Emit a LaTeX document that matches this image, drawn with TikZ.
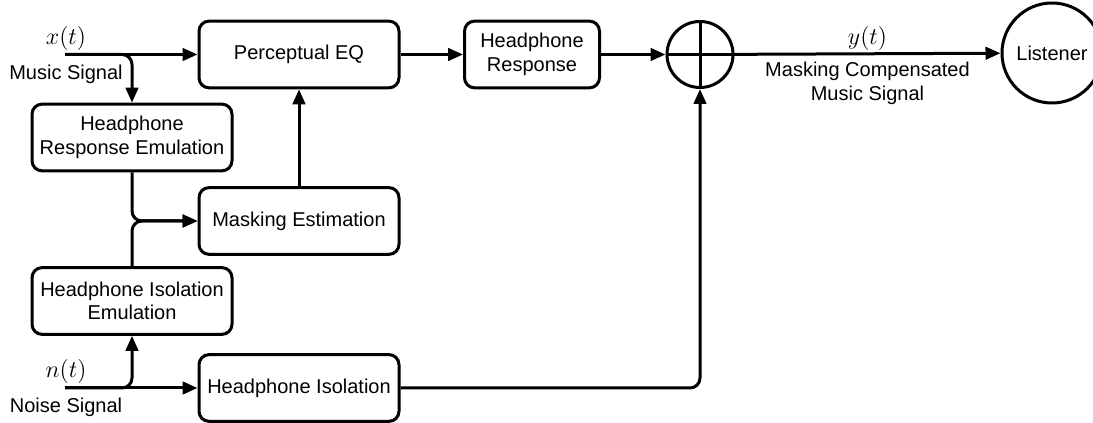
\documentclass[tikz,border=0pt]{standalone}
\usepackage{fontspec}
\setmainfont{Liberation Sans}
\usetikzlibrary{arrows.meta,positioning}

\begin{document}
\begin{tikzpicture}[x=0.6pt,y=-0.6pt,
  block/.style={draw,line width=1.8pt,rounded corners=6pt,minimum width=120pt,minimum height=40pt,align=center,font=\fontsize{12}{14}\selectfont},
  round/.style={draw,circle,line width=1.8pt,inner sep=0pt},
  conn/.style={line width=1.8pt,-{Triangle[length=9pt,width=7.5pt]}},
  lbl/.style={font=\fontsize{12}{14}\selectfont,align=center},
  sig/.style={font=\fontsize{15}{16}\selectfont}]
\useasboundingbox (0,0) rectangle (1093,423);

\node[block] (peq) at (299,54.5) {Perceptual EQ};
\node[block] (hre) at (132,137.5) {Headphone\\Response Emulation};
\node[block] (me) at (299,221) {Masking Estimation};
\node[block] (hie) at (132,301) {Headphone Isolation\\Emulation};
\node[block] (hi) at (299,388) {Headphone Isolation};
\node[block,minimum width=81pt] (hr) at (532,54.5) {Headphone\\Response};
\node[round,minimum size=39.6pt] (sum) at (700,54.5) {};
\node[round,minimum size=60pt,lbl] (lis) at (1052,53) {Listener};

\coordinate (xin) at (65,54.5);
\coordinate (nin) at (65,388);

\node[sig] (xlbl) at (66,39) {$x(t)$};
\node[lbl] (mlbl) at (66,74) {Music Signal};
\node[sig] (nlbl) at (66,372) {$n(t)$};
\node[lbl] (slbl) at (66,407) {Noise Signal};

\draw[line width=1.8pt] (sum.north) -- (sum.south) (sum.west) -- (sum.east);

\draw[conn] (xin) -- (peq);
\draw[conn,rounded corners=6pt] (xin) -| (hre);
\draw[conn] (peq) -- (hr);
\draw[conn] (hr) -- (sum);
\draw[conn] (sum) -- node[sig,above=-2pt] {$y(t)$} node[lbl,below=1pt] {Masking Compensated\\Music Signal} (lis);
\draw[conn] (me) -- (peq);
\draw[conn,rounded corners=6pt] (hre) |- (me);
\draw[conn,rounded corners=6pt] (hie) |- (me);
\draw[conn] (nin) -- (hi);
\draw[conn,rounded corners=6pt] (nin) -| (hie);
\draw[conn,rounded corners=6pt] (hi) -| (sum);
\end{tikzpicture}
\end{document}
